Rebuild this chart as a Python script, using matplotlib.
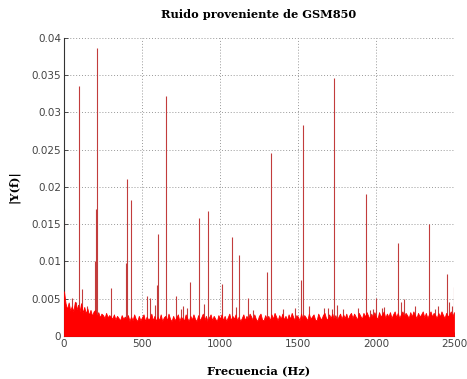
import numpy as np
import matplotlib.pyplot as plt

# noise floor of the spectrum, one value every 10 Hz (units of 1e-3)
floor_step = 10
noise_floor = [
    6.0, 4.4, 3.6, 4.5, 3.4, 4.0, 3.3, 4.6, 3.5, 4.2,
    3.3, 4.4, 3.1, 3.9, 3.0, 3.7, 2.8, 3.5, 2.7, 3.3,
    3.5, 2.6, 3.2, 2.5, 3.0, 2.8, 2.4, 3.1, 2.5, 2.8,
    2.6, 2.3, 2.9, 2.2, 2.7, 2.4, 2.1, 2.8, 2.3, 2.6,
    2.2, 2.8, 2.0, 2.6, 2.1, 2.9, 2.3, 2.0, 2.7, 2.1,
    2.5, 2.9, 2.0, 2.6, 2.2, 2.4, 3.0, 2.1, 2.7, 2.0,
    2.6, 2.1, 2.9, 2.0, 2.5, 2.7, 2.1, 3.0, 2.3, 2.0,
    2.7, 2.1, 2.5, 2.9, 2.0, 2.6, 2.3, 2.1, 2.9, 2.4,
    2.0, 2.7, 2.2, 2.9, 2.3, 2.0, 2.8, 2.1, 2.5, 3.0,
    2.1, 2.7, 2.0, 2.5, 2.9, 2.1, 2.7, 2.3, 2.0, 2.8,
    2.3, 2.9, 2.1, 2.7, 2.0, 2.5, 3.0, 2.1, 2.7, 2.3,
    2.9, 2.1, 2.6, 2.0, 2.4, 2.9, 2.1, 2.7, 2.2, 3.0,
    2.6, 2.1, 2.9, 2.3, 2.0, 2.7, 3.0, 2.2, 2.1, 2.8,
    2.3, 2.7, 2.1, 2.9, 2.3, 3.1, 2.6, 2.1, 2.8, 2.3,
    3.0, 2.2, 2.7, 2.1, 2.9, 2.3, 3.1, 2.5, 2.1, 2.8,
    2.6, 2.1, 3.0, 2.3, 2.8, 2.5, 2.1, 3.0, 2.3, 2.6,
    2.9, 2.2, 2.1, 3.0, 2.5, 2.2, 2.8, 3.1, 2.4, 2.2,
    2.9, 2.4, 3.0, 2.2, 2.8, 2.1, 2.6, 3.0, 2.3, 2.9,
    2.4, 3.0, 2.2, 2.8, 3.1, 2.4, 3.0, 2.6, 2.2, 3.1,
    2.7, 2.3, 3.1, 2.6, 3.2, 2.7, 2.3, 3.0, 2.5, 3.2,
    2.6, 2.3, 3.2, 2.6, 2.9, 3.3, 2.4, 3.0, 2.6, 3.2,
    2.4, 2.9, 3.3, 2.5, 3.1, 2.4, 2.9, 3.3, 2.6, 3.1,
    2.8, 2.4, 3.2, 2.6, 3.3, 2.8, 2.4, 3.1, 2.6, 2.9,
    3.3, 2.5, 3.1, 2.4, 2.9, 3.3, 2.6, 3.1, 2.8, 2.4,
    3.1, 2.6, 3.3, 2.8, 2.4, 3.1, 2.6, 2.9, 3.3, 2.6,
    3.2,
]

# tones that stand out of the floor: frequency (Hz), magnitude
tone_freq = [0, 49, 77, 98, 117, 145, 199, 205, 210, 301, 395, 402, 430,
             530, 551, 583, 597, 605, 651, 718, 750, 765, 790, 808, 866,
             897, 921, 1011, 1079, 1100, 1122, 1182, 1214, 1303, 1325,
             1402, 1481, 1517, 1530, 1573, 1667, 1692, 1716, 1731, 1748,
             1786, 1887, 1936, 1962, 1983, 2000, 2036, 2053, 2139, 2160,
             2181, 2250, 2342, 2378, 2395, 2453, 2470, 2489, 2500]
tone_mag = [0.0170, 0.0051, 0.0046, 0.0336, 0.0063, 0.0040, 0.0101, 0.0170,
            0.0387, 0.0064, 0.0098, 0.0210, 0.0183, 0.0053, 0.0051, 0.0042,
            0.0069, 0.0137, 0.0322, 0.0054, 0.0036, 0.0040, 0.0037, 0.0073,
            0.0158, 0.0043, 0.0168, 0.0070, 0.0133, 0.0039, 0.0109, 0.0051,
            0.0035, 0.0086, 0.0246, 0.0036, 0.0038, 0.0075, 0.0283, 0.0040,
            0.0037, 0.0038, 0.0036, 0.0346, 0.0042, 0.0036, 0.0037, 0.0190,
            0.0035, 0.0036, 0.0051, 0.0038, 0.0039, 0.0125, 0.0046, 0.0050,
            0.0040, 0.0150, 0.0036, 0.0040, 0.0083, 0.0045, 0.0040, 0.0066]

freq = np.arange(len(noise_floor)) * floor_step
floor = np.array(noise_floor) * 1e-3

fig = plt.figure(figsize=(4.67, 3.79), dpi=100)
ax = fig.add_axes([0.137, 0.1135, 0.835, 0.7865])

ax.fill_between(freq, floor, 0, color='#ff0000', linewidth=0.6, zorder=3)
ax.vlines(tone_freq, 0, tone_mag, color='#c23c3c', linewidth=0.8, zorder=2)

ax.set_xlim(0, 2500)
ax.set_ylim(0, 0.04)
ax.set_xticks([0, 500, 1000, 1500, 2000, 2500])
ax.set_yticks([0, 0.005, 0.01, 0.015, 0.02, 0.025, 0.03, 0.035, 0.04])
ax.set_yticklabels(['0', '0.005', '0.01', '0.015', '0.02', '0.025',
                    '0.03', '0.035', '0.04'])
ax.grid(True, linestyle=(0, (1, 2)), color='#999999', linewidth=0.7)
ax.set_axisbelow(True)
for s in ['top', 'right']:
    ax.spines[s].set_visible(False)
for s in ['left', 'bottom']:
    ax.spines[s].set_color('#333333')
    ax.spines[s].set_linewidth(0.8)
ax.tick_params(direction='in', length=3, width=0.6, labelsize=7.5,
               labelcolor='#444444', color='#333333', pad=2)

serif = {'family': 'DejaVu Serif', 'weight': 'bold', 'size': 8.2}
ax.set_title('Ruido proveniente de GSM850', fontdict=serif, pad=14)
ax.set_xlabel('Frecuencia (Hz)', fontdict=serif, labelpad=12)
ax.set_ylabel('|Y(f)|', fontdict=serif, labelpad=9)

fig.savefig('out.png', dpi=100)
